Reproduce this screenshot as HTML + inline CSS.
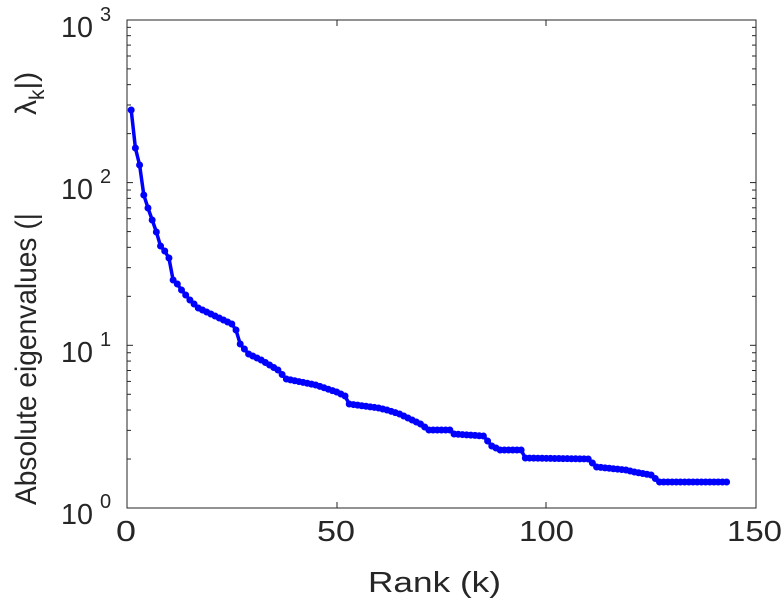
<!DOCTYPE html><html><head><style>body{margin:0;background:#fff}svg{display:block;font-family:"Liberation Sans",sans-serif}</style></head><body>
<svg id="s" width="783" height="600" xmlns="http://www.w3.org/2000/svg">
<rect x="127" y="20" width="629" height="488" fill="none" stroke="#262626" stroke-width="1"/>
<g id="ticks" stroke="#262626" stroke-width="1"></g>
<g font-size="29" fill="#262626" lengthAdjust="spacingAndGlyphs">
<text x="116" y="541" textLength="20" lengthAdjust="spacingAndGlyphs">0</text>
<text x="317" y="541" textLength="38" lengthAdjust="spacingAndGlyphs">50</text>
<text x="519" y="541" textLength="55" lengthAdjust="spacingAndGlyphs">100</text>
<text x="727" y="541" textLength="55" lengthAdjust="spacingAndGlyphs">150</text>
<text x="368" y="592" textLength="133" lengthAdjust="spacingAndGlyphs">Rank (k)</text>
</g>
<g font-size="29" fill="#262626">
<text x="61" y="524" textLength="32" lengthAdjust="spacingAndGlyphs">10</text>
<text x="61" y="362" textLength="32" lengthAdjust="spacingAndGlyphs">10</text>
<text x="61" y="199" textLength="32" lengthAdjust="spacingAndGlyphs">10</text>
<text x="61" y="37" textLength="32" lengthAdjust="spacingAndGlyphs">10</text>
</g>
<g font-size="20" fill="#262626">
<text x="100" y="508">0</text><text x="100" y="346">1</text><text x="100" y="183">2</text><text x="100" y="21">3</text>
</g>
<text transform="translate(36,505) rotate(-90)" font-size="30" fill="#262626" textLength="292" lengthAdjust="spacingAndGlyphs">Absolute eigenvalues (|</text>
<text transform="translate(36,115) rotate(-90)" font-size="30" fill="#262626">λ<tspan font-size="21" dy="8">k</tspan><tspan dy="-8">|)</tspan></text>
<polyline id="ln" fill="none" stroke="#0000ff" stroke-width="3.5" stroke-linejoin="round"/>
<g id="dots" fill="#0000ff"></g>
</svg>
<script>
var ns="http://www.w3.org/2000/svg",t=document.getElementById('ticks');
function L(x1,y1,x2,y2){var l=document.createElementNS(ns,'line');l.setAttribute('x1',x1);l.setAttribute('y1',y1);l.setAttribute('x2',x2);l.setAttribute('y2',y2);t.appendChild(l);}
var D=162.7;
for(var d=0;d<3;d++)for(var m=1;m<10;m++){var y=508-D*(d+Math.log10(m));var w=m==1?6:4;L(127,y,127+w,y);L(756,y,756-w,y);}
[127,337,546,756].forEach(function(x){L(x,508,x,502);L(x,20,x,26);});
var K=[[1,110],[2,148],[3,165],[4,195],[5,208],[6,220],[7,232],[8,246],[9,251],[10,258],[11,280],[12,284],[13,290],[15,300],[17,308],[20,314],[25,324],[26,330],[27,344],[29,354],[32,360],[36,370],[38,379],[45,385],[50,392],[52,396],[53,404],[60,408],[62,410],[65,414],[70,424],[72,430],[77,430],[78,434],[85,436],[87,446],[89,450],[94,450],[95,458],[110,459],[112,467],[119,470],[121,472],[125,475],[127,482],[143,482]];
var pts=[],g=document.getElementById('dots');
for(var k=1;k<=143;k++){var i=0;while(i<K.length-1&&K[i+1][0]<k)i++;var a=K[i],b=K[Math.min(i+1,K.length-1)];var y=a[0]==b[0]?a[1]:a[1]+(b[1]-a[1])*(k-a[0])/(b[0]-a[0]);var x=127+k*4.193;pts.push(x.toFixed(1)+','+y.toFixed(1));var c=document.createElementNS(ns,'circle');c.setAttribute('cx',x);c.setAttribute('cy',y);c.setAttribute('r',3.5);g.appendChild(c);}
document.getElementById('ln').setAttribute('points',pts.join(' '));
</script>
</body></html>
